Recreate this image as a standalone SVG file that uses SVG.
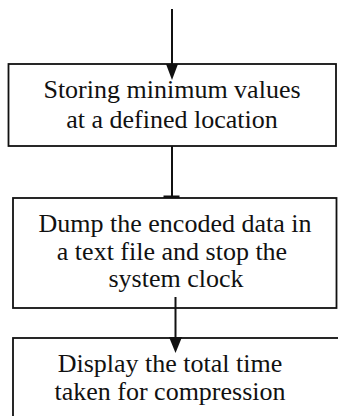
<svg xmlns="http://www.w3.org/2000/svg" width="338" height="416" viewBox="0 0 338 416">
  <style>
    .box { fill: #fff; stroke: #111; stroke-width: 1.8; }
    .lbl { font-family: "Liberation Serif", "Times New Roman", serif; font-size: 26px; fill: #111; text-anchor: middle; }
    .wire { stroke: #111; stroke-width: 2; fill: none; }
    .head { fill: #111; }
  </style>
  <rect width="338" height="416" fill="#fff"/>

  <g id="store-min">
    <rect class="box" x="8.5" y="64" width="327.5" height="82"/>
    <text class="lbl" x="172" y="98">Storing minimum values</text>
    <text class="lbl" x="172" y="128">at a defined location</text>
  </g>

  <g id="dump-data">
    <rect class="box" x="13" y="198" width="323.5" height="110"/>
    <text class="lbl" x="175" y="232">Dump the encoded data in</text>
    <text class="lbl" x="172" y="259.5">a text file and stop the</text>
    <text class="lbl" x="176" y="287">system clock</text>
  </g>

  <g id="show-time">
    <rect class="box" x="13" y="338" width="340" height="100"/>
    <text class="lbl" x="170" y="372">Display the total time</text>
    <text class="lbl" x="170" y="400">taken for compression</text>
  </g>

  <g id="connectors">
    <line class="wire" x1="172" y1="9" x2="172" y2="66"/>
    <polygon class="head" points="166,64 178,64 172,80"/>
    <line class="wire" x1="172" y1="146" x2="172" y2="197"/>
    <rect class="head" x="163.5" y="195.5" width="16" height="2.5"/>
    <line class="wire" x1="175.5" y1="297" x2="175.5" y2="340"/>
    <polygon class="head" points="169,337 182,337 175.5,353"/>
  </g>
</svg>
